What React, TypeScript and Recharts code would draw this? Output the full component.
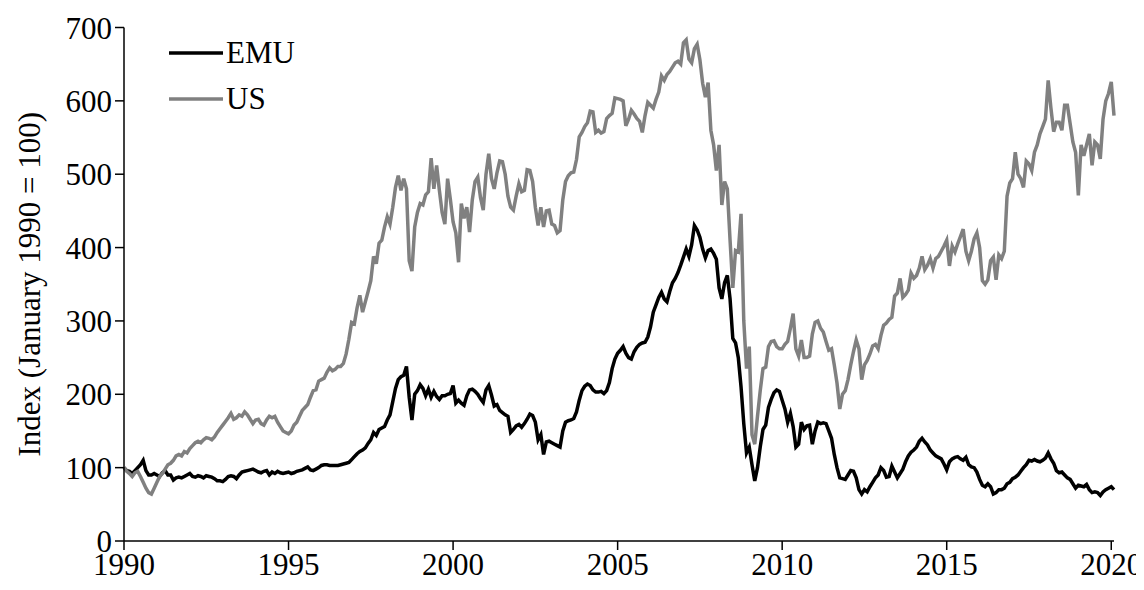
import React from "react";
import { LineChart, Line, XAxis, YAxis, Legend } from "recharts";

// monthly index, January 1990 = 100 (one row per year)
const START_YEAR = 1990;

const EMU = [
  100, 96, 95, 92, 96, 100, 104, 110, 96, 90, 90, 92,
  90, 88, 93, 96, 90, 90, 83, 86, 87, 86, 88, 90,
  92, 88, 87, 89, 88, 86, 89, 88, 87, 85, 82, 82,
  81, 84, 88, 89, 88, 85, 90, 94, 95, 96, 97, 98,
  96, 94, 93, 95, 96, 90, 94, 92, 95, 93, 92, 93,
  94, 92, 93, 95, 96, 97, 99, 101, 97, 96, 98, 100,
  103, 104, 104, 103, 103, 103, 103, 104, 105, 106, 107, 111,
  115, 119, 122, 124, 127, 133, 138, 148, 144, 152, 154, 156,
  165, 172, 190, 208, 220, 224, 226, 238, 196, 165, 200, 205,
  213, 208, 198, 207, 196, 204, 197, 193, 198, 198, 200, 201,
  212, 188, 192, 188, 185, 198, 206, 207, 204, 200, 194, 189,
  206, 212, 199, 184, 186, 178, 175, 172, 170, 148, 152, 157,
  159, 155, 160, 166, 173, 171, 162, 138, 145, 118, 135, 136,
  134, 132, 130, 128, 150, 162, 164, 165, 167, 176, 192, 205,
  211, 214, 212, 206, 203, 203, 204, 201, 205, 216, 235, 248,
  256, 260, 265, 256, 250, 248, 258, 264, 268, 270, 271, 278,
  292, 312, 322, 332, 339, 330, 326, 340, 352, 358, 366, 376,
  387, 398, 388, 404, 430, 424, 414, 398, 386, 396, 398, 392,
  384, 345, 330, 352, 362, 330, 276, 270, 250, 210, 160, 120,
  128, 104, 82, 100, 128, 152, 158, 182, 193, 202, 206, 204,
  192, 180, 162, 174, 156, 128, 132, 162, 152, 157, 158, 132,
  150, 162, 160, 161, 160, 150, 140, 118, 100, 86, 85, 84,
  90, 96, 95, 86, 70, 64, 70, 67, 74, 80, 86, 90,
  100, 96, 87, 88, 102, 94, 86, 92, 98, 108, 116, 121,
  124, 128, 136, 140, 135, 131, 124, 120, 116, 114, 112, 105,
  97, 108, 112, 114, 115, 112, 110, 114, 104, 101, 100, 94,
  84, 76, 74, 78, 74, 64, 66, 70, 70, 72, 78, 80,
  85, 87, 90, 95, 100, 104, 110, 109, 111, 109, 108, 110,
  113, 120, 112, 106, 96, 93, 94, 90, 86, 84, 78, 72,
  76, 75, 74, 77, 70, 66, 67, 66, 62, 67, 70, 72,
  74, 70,
];

const US = [
  100, 95, 92, 88, 93, 95, 88, 80, 72, 66, 64, 72,
  80, 88, 92, 98, 104, 106, 110, 116, 118, 116, 122, 120,
  126, 130, 134, 136, 134, 138, 141, 140, 138, 142, 148, 153,
  158, 163, 168, 174, 166, 168, 172, 170, 176, 172, 166, 160,
  165, 166, 160, 158, 165, 170, 168, 170, 162, 156, 150, 148,
  146, 150, 158, 162, 170, 178, 182, 186, 196, 205, 206, 218,
  220, 222, 230, 236, 232, 234, 238, 238, 242, 255, 275, 298,
  296, 318, 335, 312, 326, 340, 355, 388, 378, 406, 410, 428,
  442, 432, 455, 482, 498, 478, 494, 480, 382, 368, 428, 448,
  460, 458, 472, 476, 522, 480, 512, 478, 448, 432, 494, 466,
  435, 420, 380, 460, 440, 455, 421, 465, 490, 496, 468, 451,
  500, 528, 494, 480, 502, 518, 517, 500, 470, 455, 451, 470,
  487, 476, 478, 506, 505, 490, 455, 430, 455, 428, 450, 451,
  432, 430, 420, 423, 465, 490, 498, 502, 503, 520, 551, 557,
  565, 570, 586, 585, 557, 560, 556, 558, 576, 580, 583, 604,
  603, 602, 600, 566, 575, 587, 582, 576, 572, 557, 580, 598,
  594, 590, 602, 612, 634, 628, 636, 640, 646, 652, 654, 650,
  679, 683, 657, 652, 671, 677, 656, 624, 605, 625, 560, 540,
  505, 540, 458, 490, 480, 410, 345, 396, 394, 446, 300, 235,
  265, 145, 132, 170, 205, 235, 237, 265, 272, 273, 265, 262,
  262, 268, 272, 290, 310, 262, 252, 274, 250, 250, 252, 282,
  298, 300, 290, 285, 272, 260, 262, 240, 215, 180, 200, 205,
  220, 240, 258, 274, 262, 220, 240, 246, 255, 266, 268, 262,
  280, 294, 297, 302, 305, 334, 338, 358, 332, 336, 342, 365,
  358, 362, 372, 388, 370, 376, 385, 372, 385, 388, 395, 402,
  410, 375, 402, 394, 405, 415, 425, 395, 382, 395, 412, 420,
  400, 355, 350, 356, 382, 387, 356, 390, 385, 395, 470, 488,
  494, 530, 500, 494, 482, 518, 514, 505, 530, 540, 555, 565,
  575, 628, 590, 558, 571, 571, 560, 594, 594, 569, 544, 530,
  471, 540, 525, 540, 555, 512, 544, 540, 521, 575, 600, 610,
  626, 580,
];

const YEAR_TICKS = [1990, 1995, 2000, 2005, 2010, 2015, 2020];
const VALUE_TICKS = [0, 100, 200, 300, 400, 500, 600, 700];

const data = EMU.map((v, i) => ({
  t: START_YEAR + i / 12,
  EMU: v,
  US: US[i],
}));

const FONT = "'Liberation Serif', 'Times New Roman', serif";
const tickStyle = { fill: "#000", fontSize: 31, fontFamily: FONT };

function LegendBox({ payload }: any) {
  return (
    <div style={{ fontFamily: FONT, fontSize: 31, color: "#000" }}>
      {(payload || []).map((p: any) => (
        <div key={p.value} style={{ display: "flex", alignItems: "center", height: 46 }}>
          <svg width={54} height={46} style={{ display: "block" }}>
            <line x1={0} y1={23} x2={54} y2={23} stroke={p.color} strokeWidth={3.5} />
          </svg>
          <span style={{ marginLeft: 3, lineHeight: "46px" }}>{p.value}</span>
        </div>
      ))}
    </div>
  );
}

export default function App() {
  return (
    <div style={{ width: 1136, height: 582, fontFamily: FONT }}>
      <LineChart
        width={1136}
        height={582}
        data={data}
        margin={{ top: 19.5, right: 30, bottom: 0, left: 0 }}
      >
        <XAxis
          dataKey="t"
          type="number"
          domain={[1990, 2020 + 1 / 12]}
          ticks={YEAR_TICKS}
          interval={0}
          height={49}
          tickSize={9}
          tickMargin={3}
          tick={tickStyle}
          axisLine={{ stroke: "#000", strokeWidth: 1.5 }}
          tickLine={{ stroke: "#000", strokeWidth: 1.5 }}
        />
        <YAxis
          type="number"
          domain={[0, 700]}
          ticks={VALUE_TICKS}
          interval={0}
          width={116}
          tickSize={9}
          tickMargin={3}
          tick={tickStyle}
          axisLine={{ stroke: "#000", strokeWidth: 1.5 }}
          tickLine={{ stroke: "#000", strokeWidth: 1.5 }}
          label={{
            value: "Index (January 1990 = 100)",
            angle: -90,
            position: "insideLeft",
            offset: 21,
            style: { textAnchor: "middle", fill: "#000", fontSize: 31, fontFamily: FONT },
          }}
        />
        <Legend
          layout="vertical"
          align="center"
          verticalAlign="middle"
          content={<LegendBox />}
          wrapperStyle={{ left: 161, top: 22, width: 160 }}
        />
        <Line
          type="linear"
          dataKey="EMU"
          stroke="#000000"
          strokeWidth={3.5}
          dot={false}
          isAnimationActive={false}
        />
        <Line
          type="linear"
          dataKey="US"
          stroke="#808080"
          strokeWidth={3.5}
          dot={false}
          isAnimationActive={false}
        />
      </LineChart>
    </div>
  );
}
